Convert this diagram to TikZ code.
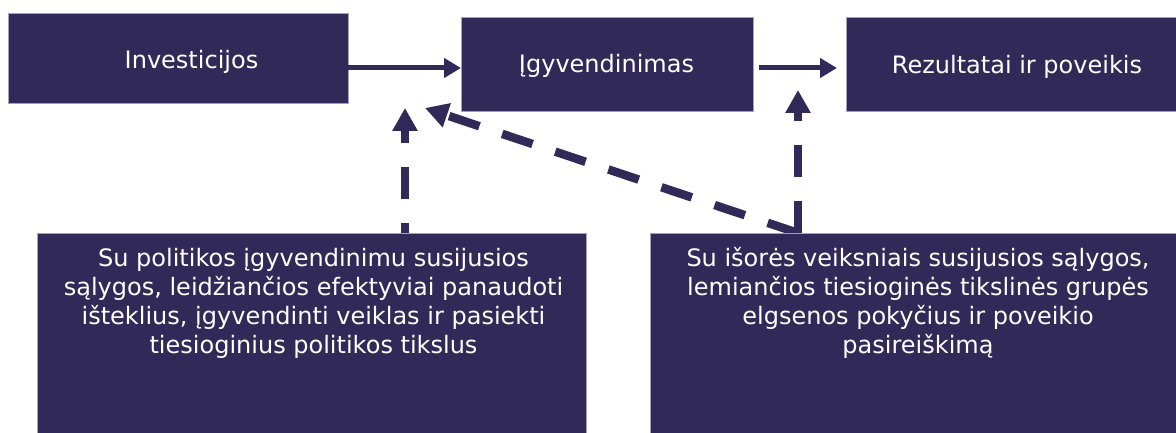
\documentclass[tikz,border=0pt]{standalone}
\usepackage{fontspec}
\setmainfont{DejaVu Sans}
\usetikzlibrary{arrows.meta,calc}
\pgfdeclarelayer{bg}
\pgfsetlayers{bg,main}
\definecolor{navy}{RGB}{49,42,88}
\definecolor{edge}{RGB}{165,160,188}
\tikzset{
  box/.style={rectangle, fill=navy, draw=edge, line width=0.6pt, inner sep=0pt, outer sep=0pt},
  lbl/.style={text=white, font=\fontsize{24}{29}\selectfont, inner sep=0pt, align=center},
  solidarrow/.style={draw=navy, line width=5pt, -{Triangle[length=17pt,width=19pt]}},
  dasharrow/.style={draw=navy, line width=8.5pt, dash pattern=on 32pt off 24pt, -{Triangle[length=23pt,width=24pt]}}
}
\begin{document}
\begin{tikzpicture}[x=1pt,y=-1pt]
\useasboundingbox (0,0) rectangle (1176,433);
% boxes
\node[box, minimum width=340pt, minimum height=90pt] (box1) at (178,58) {};
\node[box, minimum width=292pt, minimum height=94pt] (box2) at (607,64) {};
\node[box, minimum width=334pt, minimum height=94pt] (box3) at (1013,64) {};
\node[box, minimum width=549pt, minimum height=207pt] (box4) at (311.5,336.5) {};
\node[box, minimum width=530pt, minimum height=207pt] (box5) at (915,336.5) {};
% texts (base anchor = baseline of the last line)
\node[lbl, anchor=base] (t1) at (191.5,69) {Investicijos};
\node[lbl, anchor=base] (t2) at (606.5,73) {Įgyvendinimas};
\node[lbl, anchor=base] (t3) at (1017,74) {Rezultatai ir poveikis};
\node[lbl, anchor=base] (t4) at (313.5,353) {Su politikos įgyvendinimu susijusios\\sąlygos, leidžiančios efektyviai panaudoti\\išteklius, įgyvendinti veiklas ir pasiekti\\tiesioginius politikos tikslus};
\node[lbl, anchor=base] (t5) at (918,353) {Su išorės veiksniais susijusios sąlygos,\\lemiančios tiesioginės tikslinės grupės\\elgsenos pokyčius ir poveikio\\pasireiškimą};
% solid arrows
\coordinate (r1) at (0,68);
\draw[solidarrow] (box1.east |- r1) -- (box2.west |- r1);
\draw[solidarrow] ($(box2.east |- r1)+(6,0)$) -- ($(box3.west |- r1)+(-9,0)$);
% dashed arrows
\coordinate (tipA) at (405,108);
\coordinate (tipB) at (798,90);
\coordinate (tipC) at (425,108);
\begin{pgfonlayer}{bg}
\draw[dasharrow, dash phase=22pt] (tipA |- box4.north) -- (tipA);
\draw[dasharrow] (tipB |- box5.north) -- (tipB);
\draw[dasharrow] (tipB |- box5.north) -- (tipC);
\end{pgfonlayer}
\end{tikzpicture}
\end{document}
